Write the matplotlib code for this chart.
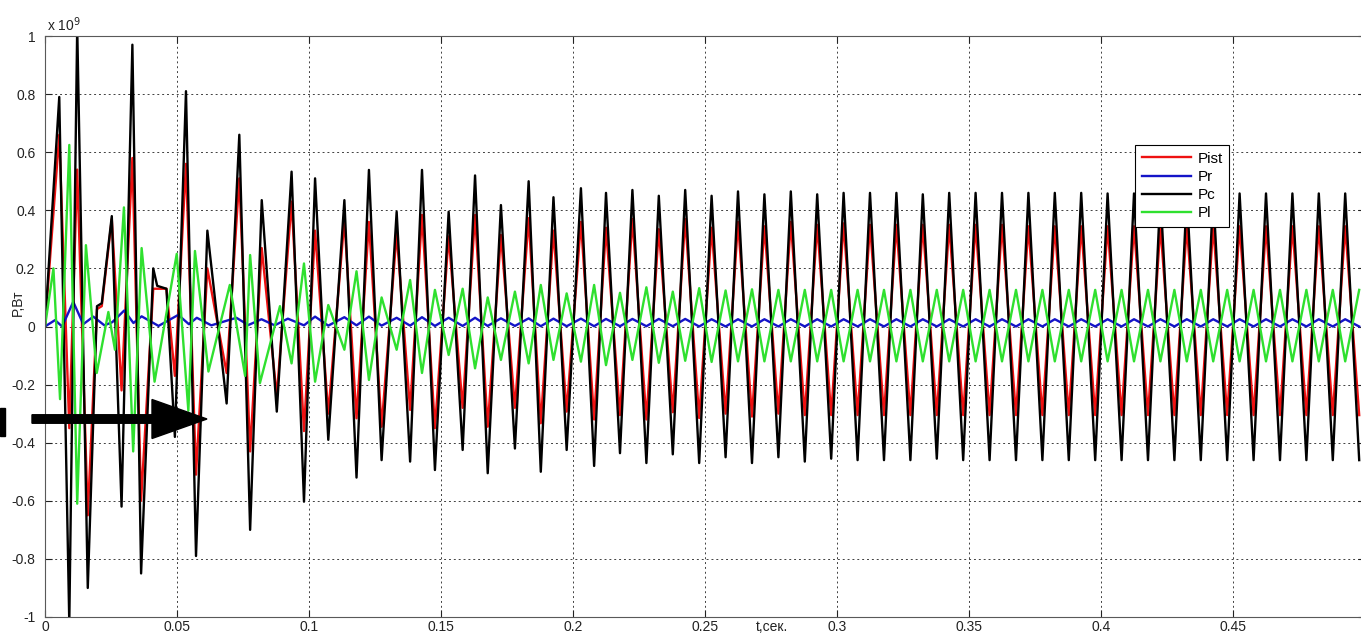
import numpy as np
import matplotlib
matplotlib.use("Agg")
import matplotlib.pyplot as plt
from matplotlib.patches import FancyArrow, Rectangle
from matplotlib.ticker import FuncFormatter

plt.rcParams["font.family"] = ["Liberation Sans", "DejaVu Sans"]

# values are in units of 1e9 W, read at the turning points of each curve

# --- start-up transient (t < 0.098 s), own turning points per curve ---
pc_t0 = [0.0, 0.0054, 0.0092, 0.0122, 0.0162, 0.0197, 0.0215, 0.0253, 0.0290,
         0.0331, 0.0364, 0.0410, 0.0425, 0.0460, 0.0492, 0.0534, 0.0572, 0.0615,
         0.0688, 0.0736, 0.0777, 0.0821, 0.0878, 0.0934]
pc_v0 = [0.0, 0.79, -1.02, 1.03, -0.90, 0.07, 0.08, 0.38, -0.62,
         0.97, -0.85, 0.20, 0.14, 0.13, -0.38, 0.81, -0.79, 0.33,
         -0.265, 0.66, -0.70, 0.435, -0.293, 0.533]

pist_t0 = [0.0, 0.0054, 0.0092, 0.0122, 0.0162, 0.0197, 0.0215, 0.0253, 0.0290,
           0.0331, 0.0364, 0.0410, 0.0460, 0.0492, 0.0534, 0.0572, 0.0615,
           0.0688, 0.0736, 0.0777, 0.0821, 0.0878, 0.0934]
pist_v0 = [0.0, 0.66, -0.35, 0.54, -0.65, 0.06, 0.07, 0.37, -0.22,
           0.58, -0.60, 0.13, 0.13, -0.17, 0.56, -0.51, 0.20,
           -0.16, 0.51, -0.43, 0.27, -0.24, 0.43]

pl_t0 = [0.0, 0.0032, 0.0057, 0.0092, 0.0122, 0.0155, 0.0196, 0.0240, 0.0265,
         0.0299, 0.0334, 0.0366, 0.0415, 0.0499, 0.0543, 0.0568, 0.0619,
         0.0700, 0.0758, 0.0777, 0.0814, 0.0890, 0.0934]
pl_v0 = [0.0, 0.20, -0.25, 0.625, -0.61, 0.28, -0.16, 0.05, -0.08,
         0.41, -0.43, 0.27, -0.19, 0.25, -0.29, 0.26, -0.155,
         0.143, -0.17, 0.246, -0.195, 0.07, -0.127]

pr_t0 = [0.0, 0.0038, 0.0065, 0.0107, 0.0145, 0.0183, 0.0225, 0.0255, 0.0300,
         0.0335, 0.0366, 0.0430, 0.0505, 0.0545, 0.0575, 0.0630, 0.0725,
         0.0770, 0.0820, 0.0870, 0.0920]
pr_v0 = [0.0, 0.022, 0.0, 0.085, 0.008, 0.034, 0.004, 0.015, 0.055,
         0.012, 0.035, 0.002, 0.040, 0.008, 0.030, 0.004, 0.030,
         0.005, 0.025, 0.004, 0.027]

# --- after 0.098 s all curves turn at the same instants ---
t_pk = [0.1023, 0.1134, 0.1227, 0.1332, 0.1428, 0.1529, 0.1629, 0.1727, 0.1832,
        0.1926, 0.2030, 0.2125, 0.2225, 0.2325, 0.2425, 0.2525, 0.2625, 0.2725,
        0.2825, 0.2925, 0.3025, 0.3125, 0.3225, 0.3325, 0.3425, 0.3525, 0.3625,
        0.3725, 0.3825, 0.3925, 0.4025, 0.4125, 0.4225, 0.4325, 0.4425, 0.4525,
        0.4625, 0.4725, 0.4825, 0.4925]
t_tr = [0.0981, 0.1073, 0.1180, 0.1275, 0.1383, 0.1477, 0.1582, 0.1677, 0.1780,
        0.1878, 0.1976, 0.2080, 0.2178, 0.2278, 0.2378, 0.2478, 0.2578, 0.2678,
        0.2778, 0.2878, 0.2978, 0.3078, 0.3178, 0.3278, 0.3378, 0.3478, 0.3578,
        0.3678, 0.3778, 0.3878, 0.3978, 0.4078, 0.4178, 0.4278, 0.4378, 0.4478,
        0.4578, 0.4678, 0.4778, 0.4878, 0.4978]

pc_pk = [0.51, 0.435, 0.539, 0.395, 0.539, 0.395, 0.52, 0.418, 0.50,
         0.445, 0.476, 0.46, 0.47, 0.45, 0.47, 0.45, 0.465, 0.455,
         0.465, 0.455, 0.46, 0.46, 0.46, 0.455, 0.46, 0.46, 0.46,
         0.46, 0.46, 0.46, 0.458, 0.458, 0.458, 0.458, 0.458, 0.458,
         0.458, 0.458, 0.458, 0.458]
pc_tr = [-0.603, -0.39, -0.52, -0.46, -0.465, -0.494, -0.425, -0.505, -0.42,
         -0.50, -0.425, -0.48, -0.436, -0.47, -0.44, -0.47, -0.45, -0.47,
         -0.45, -0.465, -0.455, -0.46, -0.46, -0.46, -0.455, -0.46, -0.46,
         -0.46, -0.46, -0.46, -0.46, -0.46, -0.46, -0.46, -0.46, -0.46,
         -0.46, -0.46, -0.46, -0.46, -0.46]

pist_pk = [0.33, 0.367, 0.36, 0.32, 0.384, 0.31, 0.384, 0.315, 0.373,
           0.33, 0.36, 0.34, 0.37, 0.335, 0.37, 0.34, 0.36, 0.345,
           0.36, 0.35, 0.355, 0.35, 0.35, 0.35, 0.35, 0.35, 0.35,
           0.345, 0.345, 0.345, 0.345, 0.345, 0.345, 0.345, 0.345, 0.345,
           0.345, 0.345, 0.345, 0.345]
pist_tr = [-0.36, -0.30, -0.316, -0.345, -0.287, -0.35, -0.28, -0.345, -0.28,
           -0.333, -0.293, -0.32, -0.305, -0.32, -0.295, -0.315, -0.30, -0.31,
           -0.30, -0.305, -0.305, -0.305, -0.305, -0.305, -0.305, -0.305, -0.305,
           -0.305, -0.305, -0.305, -0.305, -0.305, -0.305, -0.305, -0.305, -0.305,
           -0.305, -0.305, -0.305, -0.305, -0.305]

pl_pk = [-0.19, -0.08, -0.184, -0.08, -0.16, -0.098, -0.144, -0.115, -0.127,
         -0.115, -0.121, -0.133, -0.115, -0.125, -0.118, -0.122, -0.12, -0.12,
         -0.12, -0.12, -0.12, -0.12, -0.12, -0.12, -0.12, -0.12, -0.12,
         -0.12, -0.12, -0.12, -0.12, -0.12, -0.12, -0.12, -0.12, -0.12,
         -0.12, -0.12, -0.12, -0.12]
pl_tr = [0.217, 0.074, 0.19, 0.10, 0.16, 0.126, 0.13, 0.10, 0.12,
         0.143, 0.114, 0.143, 0.116, 0.135, 0.12, 0.132, 0.124, 0.128,
         0.126, 0.126, 0.126, 0.126, 0.126, 0.126, 0.126, 0.126, 0.126,
         0.126, 0.126, 0.126, 0.126, 0.126, 0.126, 0.126, 0.126, 0.126,
         0.126, 0.126, 0.126, 0.126, 0.126]

pr_pk = [0.034, 0.032, 0.034, 0.030, 0.032, 0.030, 0.030, 0.028, 0.028,
         0.027, 0.027, 0.026, 0.026, 0.026, 0.026, 0.025, 0.025, 0.025,
         0.025, 0.025, 0.025, 0.025, 0.025, 0.025, 0.025, 0.025, 0.025,
         0.025, 0.025, 0.025, 0.025, 0.025, 0.025, 0.025, 0.025, 0.025,
         0.025, 0.025, 0.025, 0.025]
pr_tr = [0.004, 0.003, 0.004, 0.003, 0.003, 0.002, 0.002, 0.002, 0.002,
         0.001, 0.001, 0.001, 0.001, 0.001, 0.001, 0.0, 0.0, 0.0,
         0.0, 0.0, 0.0, 0.0, 0.0, 0.0, 0.0, 0.0, 0.0,
         0.0, 0.0, 0.0, 0.0, 0.0, 0.0, 0.0, 0.0, 0.0,
         0.0, 0.0, 0.0, 0.0, 0.0]

labels = ["Pist", "Pr", "Pc", "Pl"]
colors = ["#ee1111", "#1414c8", "#000000", "#2fe02f"]


def join(t0, v0, vp, vt):
    t = np.concatenate([t0, t_pk, t_tr])
    v = np.concatenate([v0, vp, vt])
    order = np.argsort(t)
    return t[order], v[order]


curves = [join(pist_t0, pist_v0, pist_pk, pist_tr),
          join(pr_t0, pr_v0, pr_pk, pr_tr),
          join(pc_t0, pc_v0, pc_pk, pc_tr),
          join(pl_t0, pl_v0, pl_pk, pl_tr)]

W, H = 1361, 635
fig = plt.figure(figsize=(W / 100, H / 100), dpi=100)
ax = fig.add_axes([45 / W, 1 - 617 / H, 1320 / W, 581 / H])

for (t, v), lab, c in zip(curves, labels, colors):
    ax.plot(t, v, color=c, lw=1.7, label=lab)

ax.set_xlim(0, 0.5)
ax.set_ylim(-1, 1)
ax.set_xticks([0, 0.05, 0.1, 0.15, 0.2, 0.25, 0.3, 0.35, 0.4, 0.45])
ax.set_yticks([-1, -0.8, -0.6, -0.4, -0.2, 0, 0.2, 0.4, 0.6, 0.8, 1])
fmt = FuncFormatter(lambda x, pos: "%g" % x)
ax.xaxis.set_major_formatter(fmt)
ax.yaxis.set_major_formatter(fmt)
ax.tick_params(direction="in", length=5, top=True, right=True,
               labelsize=10, colors="#222222")
ax.tick_params(axis="x", pad=2)
ax.tick_params(axis="y", pad=7)
ax.grid(True, linestyle=(0, (2, 3)), color="0.25", linewidth=0.7)
for s in ax.spines.values():
    s.set_color("0.35")
    s.set_linewidth(0.8)

leg = ax.legend(loc="upper left", bbox_to_anchor=(0.826, 0.812),
                borderaxespad=0, fontsize=11, handlelength=3.2,
                handletextpad=0.45, labelspacing=0.28, borderpad=0.42,
                fancybox=False, framealpha=1, edgecolor="black")
leg.get_frame().set_linewidth(0.8)

fig.text(47 / W, 1 - 31 / H, r"x 10$^{9}$", fontsize=10, color="#222222")
fig.text(772 / W, 1 - 634 / H, "t,сек.", fontsize=10, ha="center",
         va="bottom", color="#222222")
fig.text(18 / W, 1 - 303 / H, "P,Вт", fontsize=10, rotation=90,
         ha="center", va="center", color="#222222")

# black arrow drawn over the plot in the original picture
fig.add_artist(FancyArrow(32 / 100, (H - 419) / 100, 175 / 100, 0,
                          width=0.085, head_width=0.39, head_length=0.55,
                          length_includes_head=True, color="black",
                          transform=fig.dpi_scale_trans))
fig.add_artist(Rectangle((0, (H - 436) / 100), 0.045, 0.28, color="black",
                         transform=fig.dpi_scale_trans))

fig.savefig("out.png", dpi=100)
